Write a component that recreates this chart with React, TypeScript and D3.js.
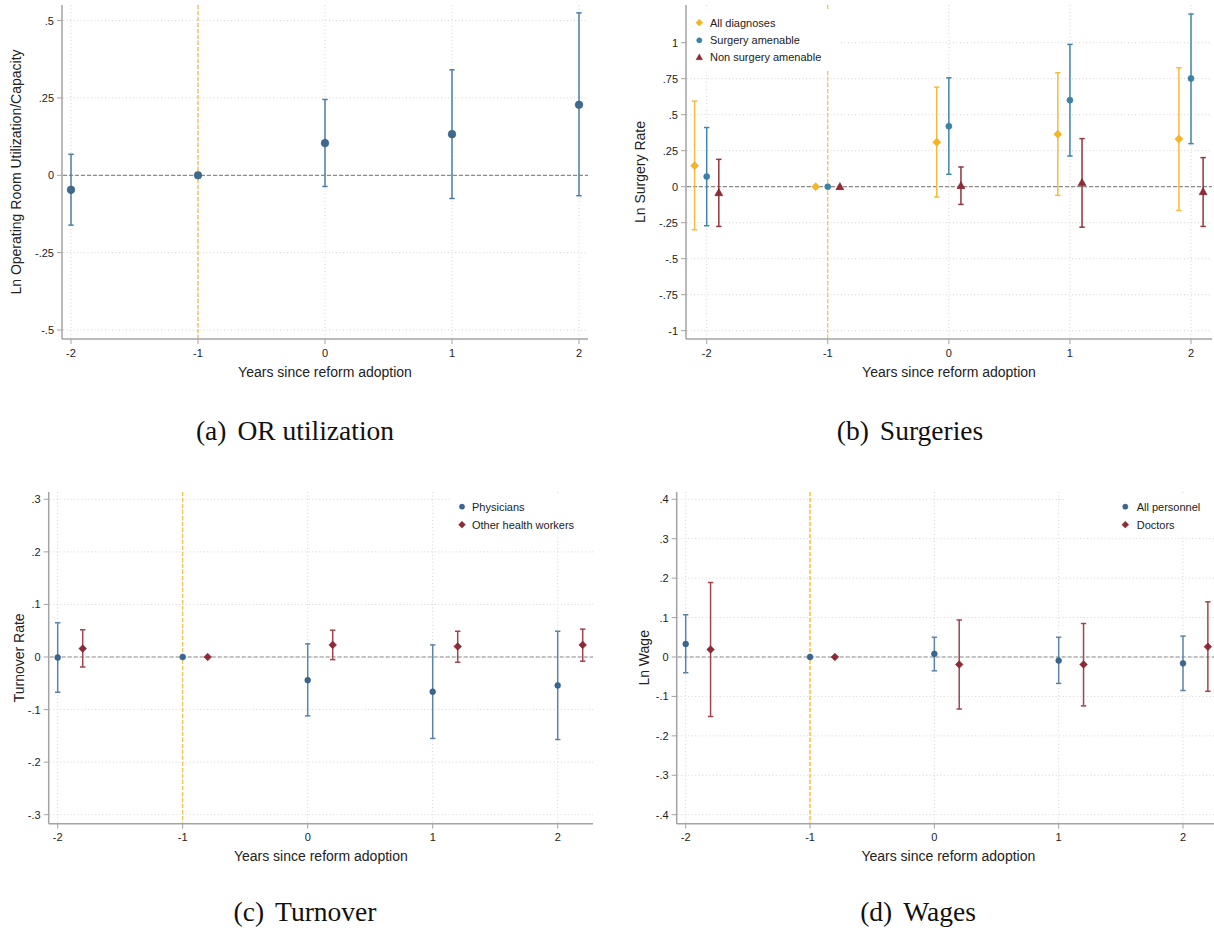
import * as d3 from "d3";

// event-time axis shared by all four panels
const years = [-2, -1, 0, 1, 2];

// (a) OR utilization
const orEst = [-0.047, 0, 0.104, 0.133, 0.228];
const orLo = [-0.161, null, -0.036, -0.075, -0.066];
const orHi = [0.068, null, 0.245, 0.341, 0.525];

// (b) Surgeries
const allDiagEst = [0.146, 0, 0.309, 0.364, 0.332];
const allDiagLo = [-0.299, null, -0.072, -0.06, -0.165];
const allDiagHi = [0.594, null, 0.691, 0.791, 0.826];
const amenEst = [0.07, 0, 0.42, 0.601, 0.752];
const amenLo = [-0.271, null, 0.086, 0.213, 0.299];
const amenHi = [0.411, null, 0.756, 0.988, 1.199];
const nonAmenEst = [-0.042, 0, 0.007, 0.028, -0.035];
const nonAmenLo = [-0.276, null, -0.123, -0.281, -0.276];
const nonAmenHi = [0.19, null, 0.137, 0.334, 0.202];

// (c) Turnover
const physEst = [-0.001, 0, -0.044, -0.066, -0.054];
const physLo = [-0.067, null, -0.112, -0.155, -0.157];
const physHi = [0.065, null, 0.025, 0.023, 0.049];
const otherEst = [0.016, 0, 0.023, 0.02, 0.023];
const otherLo = [-0.019, null, -0.005, -0.01, -0.008];
const otherHi = [0.052, null, 0.051, 0.049, 0.053];

// (d) Wages
const allPersEst = [0.033, 0, 0.008, -0.009, -0.016];
const allPersLo = [-0.04, null, -0.035, -0.067, -0.085];
const allPersHi = [0.107, null, 0.05, 0.05, 0.053];
const doctorsEst = [0.019, 0, -0.019, -0.019, 0.026];
const doctorsLo = [-0.151, null, -0.132, -0.124, -0.087];
const doctorsHi = [0.189, null, 0.094, 0.085, 0.14];

const yTicksA = [-0.5, -0.25, 0, 0.25, 0.5];
const yTicksB = [-1, -0.75, -0.5, -0.25, 0, 0.25, 0.5, 0.75, 1];
const yTicksC = [-0.3, -0.2, -0.1, 0, 0.1, 0.2, 0.3];
const yTicksD = [-0.4, -0.3, -0.2, -0.1, 0, 0.1, 0.2, 0.3, 0.4];

const SANS = "'Liberation Sans', Arial, Helvetica, sans-serif";
const SERIF = "'Liberation Serif', 'Times New Roman', serif";

type Shape = "circle" | "diamond" | "triangle";

interface Series {
  label: string;
  est: number[];
  lo: (number | null)[];
  hi: (number | null)[];
  offset: number;
  shape: Shape;
  size: number;
  fill: string;
  stroke: string;
  line: string;
}

interface PanelSpec {
  id: string;
  left: number;
  right: number;
  top: number;
  bottom: number;
  xAt: [number, number]; // pixel of -2 and 2
  yZero: number;
  yRef: [number, number]; // value, pixel
  yTicks: number[];
  yTitle: string;
  yTitleX: number;
  xline: { color: string; width: number };
  series: Series[];
  legend?: { box: [number, number, number, number]; mx: number; tx: number; ys: number[] };
  caption: string;
  captionX: number;
  captionY: number;
}

const fmt = (v: number) => (v === 0 ? "0" : String(v).replace(/^(-?)0\./, "$1."));

function markerPath(shape: Shape, s: number) {
  if (shape === "circle") return d3.symbol(d3.symbolCircle, Math.PI * s * s)() ?? "";
  if (shape === "diamond") return `M0,${-s}L${s},0L0,${s}L${-s},0Z`;
  return `M0,${-s}L${s * 0.95},${s * 0.7}L${-s * 0.95},${s * 0.7}Z`;
}

const blueA = { fill: "#3d6a8e", stroke: "#2f5879", line: "#4a7ea6" };
const blueB = { fill: "#3b83a6", stroke: "#35789a", line: "#3f86aa" };
const orange = { fill: "#f6b324", stroke: "#f0aa18", line: "#f7bb3c" };
const maroon = { fill: "#8e2b36", stroke: "#82252f", line: "#93343e" };
const blueC = { fill: "#3b668f", stroke: "#325b80", line: "#5a84a8" };
const maroonC = { fill: "#8e2a36", stroke: "#82252f", line: "#a4434d" };

const panels: PanelSpec[] = [
  {
    id: "a",
    left: 62, right: 588, top: 5, bottom: 339,
    xAt: [71, 579],
    yZero: 175.3,
    yRef: [0.5, 20.6],
    yTicks: yTicksA,
    yTitle: "Ln Operating Room Utilization/Capacity",
    yTitleX: 16,
    xline: { color: "#f2a516", width: 1 },
    series: [
      { label: "", est: orEst, lo: orLo, hi: orHi, offset: 0, shape: "circle", size: 3.8, ...blueA },
    ],
    caption: "(a)|OR utilization",
    captionX: 295,
    captionY: 440,
  },
  {
    id: "b",
    left: 686, right: 1212, top: 5, bottom: 339,
    xAt: [706.7, 1191],
    yZero: 186.7,
    yRef: [1, 42.7],
    yTicks: yTicksB,
    yTitle: "Ln Surgery Rate",
    yTitleX: 640,
    xline: { color: "#f5b52a", width: 1 },
    series: [
      { label: "All diagnoses", est: allDiagEst, lo: allDiagLo, hi: allDiagHi, offset: -0.1, shape: "diamond", size: 4, ...orange },
      { label: "Surgery amenable", est: amenEst, lo: amenLo, hi: amenHi, offset: 0, shape: "circle", size: 3, ...blueB },
      { label: "Non surgery amenable", est: nonAmenEst, lo: nonAmenLo, hi: nonAmenHi, offset: 0.1, shape: "triangle", size: 4.2, ...maroon },
    ],
    legend: { box: [687, 9, 154, 60], mx: 699.3, tx: 710, ys: [22.7, 40.3, 57.3] },
    caption: "(b)|Surgeries",
    captionX: 910,
    captionY: 440,
  },
  {
    id: "c",
    left: 48.7, right: 593, top: 492, bottom: 823.7,
    xAt: [57.7, 557.7],
    yZero: 657,
    yRef: [0.3, 499.3],
    yTicks: yTicksC,
    yTitle: "Turnover Rate",
    yTitleX: 19,
    xline: { color: "#f5b52a", width: 1 },
    series: [
      { label: "Physicians", est: physEst, lo: physLo, hi: physHi, offset: 0, shape: "circle", size: 2.9, ...blueC },
      { label: "Other health workers", est: otherEst, lo: otherLo, hi: otherHi, offset: 0.2, shape: "diamond", size: 3.8, ...maroonC },
    ],
    legend: { box: [452, 494, 141, 43], mx: 462, tx: 472, ys: [506.7, 524.7] },
    caption: "(c)|Turnover",
    captionX: 305,
    captionY: 921,
  },
  {
    id: "d",
    left: 676.7, right: 1220, top: 492, bottom: 823.7,
    xAt: [685.7, 1183],
    yZero: 657,
    yRef: [0.4, 499.3],
    yTicks: yTicksD,
    yTitle: "Ln Wage",
    yTitleX: 643.5,
    xline: { color: "#fcc444", width: 1.6 },
    series: [
      { label: "All personnel", est: allPersEst, lo: allPersLo, hi: allPersHi, offset: 0, shape: "circle", size: 2.9, ...blueC },
      { label: "Doctors", est: doctorsEst, lo: doctorsLo, hi: doctorsHi, offset: 0.2, shape: "diamond", size: 3.8, ...maroonC },
    ],
    legend: { box: [1066, 494, 150, 43], mx: 1125.3, tx: 1136.7, ys: [506.7, 524.7] },
    caption: "(d)|Wages",
    captionX: 918,
    captionY: 921,
  },
];

const AXIS = "#a3a3a3";
const GRID = "#d4d4d4";

function Panel({ p }: { p: PanelSpec }) {
  const x = d3.scaleLinear().domain([-2, 2]).range(p.xAt);
  const y = d3.scaleLinear().domain([0, p.yRef[0]]).range([p.yZero, p.yRef[1]]);
  const [tag, rest] = p.caption.split("|");
  const midX = (p.left + p.right) / 2;
  const midY = (p.top + p.bottom) / 2;
  const cap = 2.7;

  return (
    <g>
      <defs>
        <clipPath id={`clip-${p.id}`}>
          <rect x={p.left} y={p.top - 4} width={p.right - p.left} height={p.bottom - p.top + 4} />
        </clipPath>
      </defs>

      {/* gridlines */}
      {p.yTicks.map((t) => (
        <line key={`gy${t}`} x1={p.left + 1} x2={p.right} y1={y(t)} y2={y(t)} stroke={GRID} strokeWidth={1} strokeDasharray="1 2.5" />
      ))}
      {years.map((t) => (
        <line key={`gx${t}`} x1={x(t)} x2={x(t)} y1={p.top} y2={p.bottom - 1} stroke={GRID} strokeWidth={1} strokeDasharray="1 2.5" />
      ))}

      {/* reference lines */}
      <line x1={p.left + 1} x2={p.right} y1={y(0)} y2={y(0)} stroke="#8c8c8c" strokeWidth={1.2} strokeDasharray="4 2" />
      <line x1={x(-1)} x2={x(-1)} y1={p.top} y2={p.bottom - 1} stroke={p.xline.color} strokeWidth={p.xline.width} strokeDasharray="4 2" />

      {/* estimates with confidence intervals */}
      <g clipPath={`url(#clip-${p.id})`}>
        {p.series.map((s, si) =>
          years.map((yr, i) => {
            const cx = x(yr + s.offset);
            const lo = s.lo[i];
            const hi = s.hi[i];
            return (
              <g key={`s${si}-${yr}`}>
                {lo !== null && hi !== null && (
                  <g stroke={s.line} strokeWidth={1.5}>
                    <line x1={cx} x2={cx} y1={y(lo)} y2={y(hi)} />
                    <line x1={cx - cap} x2={cx + cap} y1={y(lo)} y2={y(lo)} />
                    <line x1={cx - cap} x2={cx + cap} y1={y(hi)} y2={y(hi)} />
                  </g>
                )}
                <path
                  d={markerPath(s.shape, s.size)}
                  transform={`translate(${cx},${y(s.est[i])})`}
                  fill={s.fill}
                  stroke={s.stroke}
                  strokeWidth={0.6}
                />
              </g>
            );
          })
        )}
      </g>

      {/* axes */}
      <line x1={p.left} x2={p.left} y1={p.top} y2={p.bottom} stroke={AXIS} strokeWidth={1.5} />
      <line x1={p.left} x2={p.right} y1={p.bottom} y2={p.bottom} stroke={AXIS} strokeWidth={1.5} />
      {p.yTicks.map((t) => (
        <g key={`ty${t}`}>
          <line x1={p.left - 5} x2={p.left} y1={y(t)} y2={y(t)} stroke={AXIS} strokeWidth={1} />
          <text x={p.left - 8} y={y(t)} textAnchor="end" dominantBaseline="central" fontFamily={SANS} fontSize={11} fill="#222">
            {fmt(t)}
          </text>
        </g>
      ))}
      {years.map((t) => (
        <g key={`tx${t}`}>
          <line x1={x(t)} x2={x(t)} y1={p.bottom} y2={p.bottom + 5} stroke={AXIS} strokeWidth={1} />
          <text x={x(t)} y={p.bottom + 13.5} textAnchor="middle" dominantBaseline="central" fontFamily={SANS} fontSize={11} fill="#222">
            {fmt(t)}
          </text>
        </g>
      ))}
      <text x={midX} y={p.bottom + 32.5} textAnchor="middle" dominantBaseline="central" fontFamily={SANS} fontSize={14} fill="#222">
        Years since reform adoption
      </text>
      <text
        transform={`translate(${p.yTitleX},${midY}) rotate(-90)`}
        textAnchor="middle"
        dominantBaseline="central"
        fontFamily={SANS}
        fontSize={14}
        fill="#222"
      >
        {p.yTitle}
      </text>

      {/* legend */}
      {p.legend && (
        <g>
          <rect x={p.legend.box[0]} y={p.legend.box[1]} width={p.legend.box[2]} height={p.legend.box[3]} fill="#fff" />
          {p.series.map((s, i) => (
            <g key={`lg${i}`}>
              <path
                d={markerPath(s.shape, s.shape === "circle" ? 2.6 : 3.4)}
                transform={`translate(${p.legend!.mx},${p.legend!.ys[i]})`}
                fill={s.fill}
                stroke={s.stroke}
                strokeWidth={0.5}
              />
              <text x={p.legend!.tx} y={p.legend!.ys[i]} dominantBaseline="central" fontFamily={SANS} fontSize={11} fill="#222">
                {s.label}
              </text>
            </g>
          ))}
        </g>
      )}

      {/* caption */}
      <text x={p.captionX} y={p.captionY} textAnchor="middle" fontFamily={SERIF} fontSize={27.5} fill="#111">
        <tspan>{tag}</tspan>
        <tspan dx={11}>{rest}</tspan>
      </text>
    </g>
  );
}

export default function App() {
  return (
    <svg
      width={1214}
      height={934}
      viewBox="0 0 1214 934"
      style={{ position: "absolute", left: 0, top: 0, background: "#fff" }}
    >
      <rect width={1214} height={934} fill="#fff" />
      {panels.map((p) => (
        <Panel key={p.id} p={p} />
      ))}
    </svg>
  );
}
